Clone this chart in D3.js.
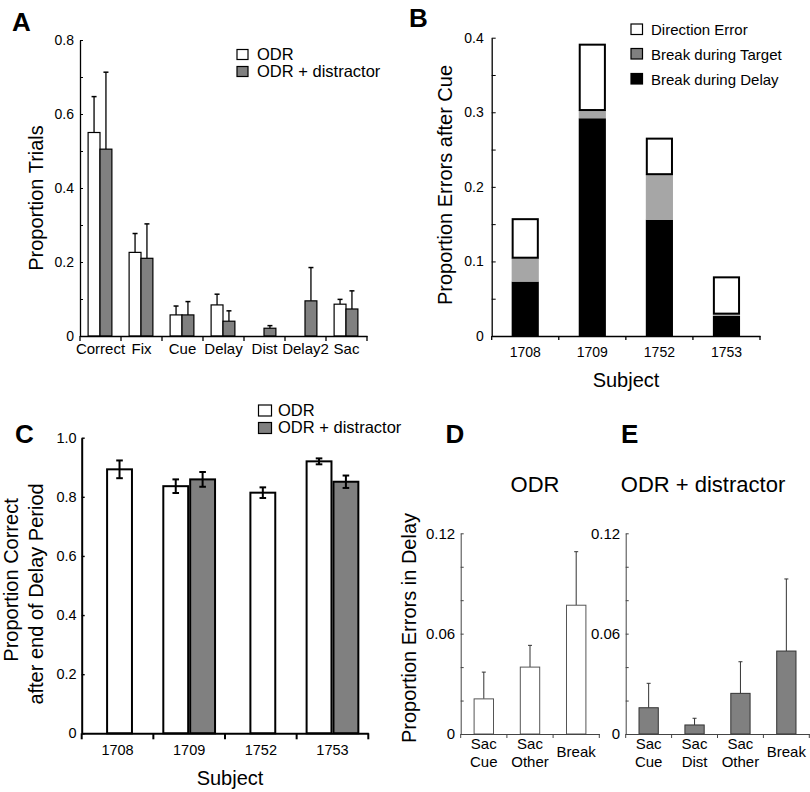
<!DOCTYPE html>
<html>
<head>
<meta charset="utf-8">
<script src="https://cdn.jsdelivr.net/npm/d3@7"></script>
<style>
  html, body { margin: 0; padding: 0; background: #fff; }
  svg { display: block; }
</style>
</head>
<body>
<svg id="fig" width="810" height="792"></svg>
<script>
// ---------- DATA ----------
// Panel A
const aCategories = ["Correct", "Fix", "Cue", "Delay", "Dist", "Delay2", "Sac"];
const aOdr     = [0.550, 0.226, 0.057, 0.084, null, null, 0.086];
const aOdrErr  = [0.097, 0.051, 0.024, 0.029, null, null, 0.013];
const aDist    = [0.505, 0.210, 0.057, 0.040, 0.021, 0.095, 0.073];
const aDistErr = [0.208, 0.093, 0.036, 0.028, 0.007, 0.090, 0.049];
const aTicks   = [0, 0.1, 0.2, 0.3, 0.4, 0.5, 0.6, 0.7, 0.8];
const aTickLabels = ["0", "", "0.2", "", "0.4", "", "0.6", "", "0.8"];

// Panel B
const bSubjects    = ["1708", "1709", "1752", "1753"];
const bBreakDelay  = [0.073, 0.292, 0.156, 0.027];
const bBreakTarget = [0.032, 0.011, 0.061, 0.003];
const bDirError    = [0.053, 0.089, 0.049, 0.050];
const bSeriesNames = ["Direction Error", "Break during Target", "Break during Delay"];
const bTicks = [0, 0.05, 0.1, 0.15, 0.2, 0.25, 0.3, 0.35, 0.4];
const bTickLabels = ["0", "", "0.1", "", "0.2", "", "0.3", "", "0.4"];

// Panel C
const cSubjects = ["1708", "1709", "1752", "1753"];
const cOdr      = [0.893, 0.836, 0.814, 0.920];
const cOdrErr   = [0.030, 0.023, 0.018, 0.010];
const cDist     = [null, 0.859, null, 0.851];
const cDistErr  = [null, 0.025, null, 0.021];
const cTicks = [0, 0.2, 0.4, 0.6, 0.8, 1.0];
const cTickLabels = ["0", "0.2", "0.4", "0.6", "0.8", "1.0"];

// Panel D (ODR)
const dCategories = [["Sac", "Cue"], ["Sac", "Other"], ["Break"]];
const dValues = [0.021, 0.040, 0.077];
const dErr    = [0.016, 0.013, 0.032];
// Panel E (ODR + distractor)
const eCategories = [["Sac", "Cue"], ["Sac", "Dist"], ["Sac", "Other"], ["Break"]];
const eValues = [0.0157, 0.0054, 0.0243, 0.0496];
const eErr    = [0.0146, 0.0040, 0.0189, 0.0431];
const deTicks = [0, 0.02, 0.04, 0.06, 0.08, 0.10, 0.12];
const deTickLabels = ["0", "", "", "0.06", "", "", "0.12"];

const legendNames = ["ODR", "ODR + distractor"];

// ---------- STYLE ----------
const FONT = '"Liberation Sans", Arial, Helvetica, sans-serif';
const GRAY = "#808080";
const LIGHTGRAY = "#a6a6a6";

const svg = d3.select("#fig");
svg.append("rect").attr("width", 810).attr("height", 792).attr("fill", "#fff");

function txt(g, x, y, s, size, opts = {}) {
  const t = g.append("text").attr("x", x).attr("y", y).text(s)
    .attr("font-family", FONT).attr("font-size", size).attr("fill", "#000")
    .attr("text-anchor", opts.anchor || "start");
  if (opts.bold) t.attr("font-weight", "bold");
  if (opts.rotate) t.attr("transform", `rotate(-90,${x},${y})`);
  return t;
}

function yAxis(x, scale, ticks, labels, size, tickLen, sw, pad, color) {
  const g = svg.append("g").attr("transform", `translate(${x},0)`)
    .call(d3.axisLeft(scale).tickValues(ticks)
      .tickFormat((d, i) => labels[i]).tickSize(-tickLen).tickSizeOuter(0).tickPadding(pad));
  g.select(".domain").attr("stroke", color).attr("stroke-width", sw);
  g.selectAll(".tick line").attr("stroke", color).attr("stroke-width", Math.max(1, sw * 0.7));
  g.selectAll(".tick text").attr("font-family", FONT).attr("font-size", size).attr("fill", "#000");
  return g;
}

function xAxisBand(y, scale, size, sw, tickLen, pad, color, withLabels) {
  const g = svg.append("g").attr("transform", `translate(0,${y})`)
    .call(d3.axisBottom(scale).tickSize(0).tickSizeOuter(0).tickPadding(pad));
  g.select(".domain").attr("stroke", color).attr("stroke-width", sw);
  if (withLabels) {
    g.selectAll(".tick text").attr("font-family", FONT).attr("font-size", size).attr("fill", "#000");
  } else {
    g.selectAll(".tick text").remove();
  }
  const bounds = scale.domain().map(c => scale(c)).concat([scale.range()[1]]);
  g.selectAll("line.bnd").data(bounds).enter().append("line")
    .attr("class", "bnd")
    .attr("x1", d => d).attr("x2", d => d).attr("y1", 0).attr("y2", tickLen)
    .attr("stroke", color).attr("stroke-width", sw);
  return g;
}

// ================= PANEL A =================
(function () {
  const y = d3.scaleLinear().domain([0, 0.8]).range([336, 40]);
  const x = d3.scaleBand().domain(aCategories).range([80, 367]);
  const bw = x.bandwidth() * 0.29;
  const g = svg.append("g");

  aCategories.forEach((c, i) => {
    const cx = x(c) + x.bandwidth() / 2 - 0.5;
    const series = [
      { v: aOdr[i], e: aOdrErr[i], x0: cx - bw, fill: "#fff" },
      { v: aDist[i], e: aDistErr[i], x0: cx, fill: GRAY }
    ];
    series.forEach(s => {
      if (s.v == null) return;
      const bx = s.x0 + bw / 2;
      g.append("line").attr("x1", bx).attr("x2", bx)
        .attr("y1", y(s.v)).attr("y2", y(s.v + s.e)).attr("stroke", "#000").attr("stroke-width", 1.3);
      g.append("line").attr("x1", bx - 2.5).attr("x2", bx + 2.5)
        .attr("y1", y(s.v + s.e)).attr("y2", y(s.v + s.e)).attr("stroke", "#000").attr("stroke-width", 1.5);
      g.append("rect").attr("x", s.x0).attr("y", y(s.v))
        .attr("width", bw).attr("height", y(0) - y(s.v))
        .attr("fill", s.fill).attr("stroke", "#000").attr("stroke-width", 1.2);
    });
  });

  yAxis(80, y, aTicks, aTickLabels, 14, 3, 1.3, 6, "#000");
  xAxisBand(336, x, 15, 1.3, 5, 7.5, "#000", true);

  txt(svg, 42.5, 198, "Proportion Trials", 20, { anchor: "middle", rotate: true });
  txt(svg, 12, 31, "A", 26, { bold: true });
  const leg = [[49.5, "#fff"], [66.5, GRAY]];
  leg.forEach((l, i) => {
    svg.append("rect").attr("x", 237).attr("y", l[0]).attr("width", 11).attr("height", 10)
      .attr("fill", l[1]).attr("stroke", "#000").attr("stroke-width", 1.2);
    txt(svg, 257, l[0] + 10, legendNames[i], 16.5);
  });
})();

// ================= PANEL B =================
(function () {
  const y = d3.scaleLinear().domain([0, 0.4]).range([336, 37.7]);
  const x = d3.scaleBand().domain(bSubjects).range([491.7, 760]);
  const bw = x.bandwidth() * 0.405;
  const table = bSubjects.map((s, i) => ({
    subject: s, delay: bBreakDelay[i], target: bBreakTarget[i], dir: bDirError[i]
  }));
  const keys = ["delay", "target", "dir"];
  const fills = { delay: "#000", target: LIGHTGRAY, dir: "#fff" };
  const stacked = d3.stack().keys(keys)(table);
  const g = svg.append("g");
  stacked.forEach(layer => {
    layer.forEach(d => {
      const cx = x(d.data.subject) + x.bandwidth() / 2;
      const r = g.append("rect")
        .attr("x", cx - bw / 2).attr("y", y(d[1]))
        .attr("width", bw).attr("height", Math.max(0, y(d[0]) - y(d[1])))
        .attr("fill", fills[layer.key]);
      if (layer.key === "dir") {
        r.attr("x", cx - bw / 2 + 1).attr("width", bw - 2)
          .attr("y", y(d[1]) + 1).attr("height", Math.max(0, y(d[0]) - y(d[1]) - 1))
          .attr("stroke", "#000").attr("stroke-width", 2);
      }
    });
  });

  yAxis(491.7, y, bTicks, bTickLabels, 14, 4, 1.3, 8, "#000");
  xAxisBand(336, x, 14, 1.3, 4, 10.8, "#000", true);

  txt(svg, 452, 185, "Proportion Errors after Cue", 20, { anchor: "middle", rotate: true });
  txt(svg, 626, 387, "Subject", 20, { anchor: "middle" });
  txt(svg, 409, 27, "B", 26, { bold: true });

  const legFills = ["#fff", GRAY, "#000"];
  const legY = [24, 48.5, 73.5];
  bSeriesNames.forEach((n, i) => {
    svg.append("rect").attr("x", 631).attr("y", legY[i]).attr("width", 11.5).attr("height", 10.5)
      .attr("fill", legFills[i]).attr("stroke", "#000").attr("stroke-width", 1.2);
    txt(svg, 651, legY[i] + 11, n, 15);
  });
})();

// ================= PANEL C =================
(function () {
  const y = d3.scaleLinear().domain([0, 1]).range([733.3, 437.7]);
  const x = d3.scaleBand().domain(cSubjects).range([81.7, 368.3]);
  const bw = x.bandwidth() * 0.375;
  const g = svg.append("g");
  cSubjects.forEach((c, i) => {
    const cx = x(c) + x.bandwidth() / 2;
    const pair = cDist[i] != null;
    const items = [];
    if (pair) {
      items.push({ v: cOdr[i], e: cOdrErr[i], x0: cx - bw, fill: "#fff" });
      items.push({ v: cDist[i], e: cDistErr[i], x0: cx, fill: GRAY });
    } else {
      items.push({ v: cOdr[i], e: cOdrErr[i], x0: cx - bw / 2 + 2, fill: "#fff" });
    }
    items.forEach(s => {
      g.append("rect").attr("x", s.x0 + 1).attr("y", y(s.v))
        .attr("width", bw - 2).attr("height", y(0) - y(s.v))
        .attr("fill", s.fill).attr("stroke", "#000").attr("stroke-width", 2);
    });
    items.forEach(s => {
      const bx = s.x0 + bw / 2;
      g.append("line").attr("x1", bx).attr("x2", bx)
        .attr("y1", y(s.v - s.e)).attr("y2", y(s.v + s.e)).attr("stroke", "#000").attr("stroke-width", 2);
      [s.v - s.e, s.v + s.e].forEach(v => {
        g.append("line").attr("x1", bx - 3.3).attr("x2", bx + 3.3)
          .attr("y1", y(v)).attr("y2", y(v)).attr("stroke", "#000").attr("stroke-width", 2);
      });
    });
  });

  yAxis(81.7, y, cTicks, cTickLabels, 14.5, 3, 2, 5, "#000");
  xAxisBand(733.3, x, 14.5, 2, 6, 11.3, "#000", true);

  txt(svg, 17.5, 580, "Proportion Correct", 20, { anchor: "middle", rotate: true });
  txt(svg, 42.8, 594, "after end of Delay Period", 20, { anchor: "middle", rotate: true });
  txt(svg, 230, 785, "Subject", 20, { anchor: "middle" });
  txt(svg, 15, 443, "C", 26, { bold: true });

  const leg = [[405, "#fff"], [422.5, GRAY]];
  leg.forEach((l, i) => {
    svg.append("rect").attr("x", 258.5).attr("y", l[0]).attr("width", 13).attr("height", 11)
      .attr("fill", l[1]).attr("stroke", "#000").attr("stroke-width", 1.2);
    txt(svg, 278, l[0] + 10.5, legendNames[i], 16.5);
  });
})();

// ================= PANELS D & E =================
function smallPanel(x0, x1, cats, vals, errs, fill, stroke, title, titleX, letter, letterX) {
  const y = d3.scaleLinear().domain([0, 0.12]).range([734, 533.3]);
  const keys = cats.map(c => c.join(" "));
  const x = d3.scaleBand().domain(keys).range([x0, x1]);
  const bw = x.bandwidth() * 0.42;
  const g = svg.append("g");
  keys.forEach((k, i) => {
    const cx = x(k) + x.bandwidth() / 2;
    g.append("line").attr("x1", cx).attr("x2", cx)
      .attr("y1", y(vals[i])).attr("y2", y(vals[i] + errs[i]))
      .attr("stroke", "#333").attr("stroke-width", 1);
    g.append("line").attr("x1", cx - 2).attr("x2", cx + 2)
      .attr("y1", y(vals[i] + errs[i])).attr("y2", y(vals[i] + errs[i]))
      .attr("stroke", "#333").attr("stroke-width", 1);
    g.append("rect").attr("x", cx - bw / 2).attr("y", y(vals[i]))
      .attr("width", bw).attr("height", y(0) - y(vals[i]))
      .attr("fill", fill).attr("stroke", stroke).attr("stroke-width", 1);
    const lines = cats[i];
    if (lines.length === 2) {
      txt(g, cx, 748.5, lines[0], 15, { anchor: "middle" });
      txt(g, cx, 766.5, lines[1], 15, { anchor: "middle" });
    } else {
      txt(g, cx, 757, lines[0], 15, { anchor: "middle" });
    }
  });
  yAxis(x0, y, deTicks, deTickLabels, 15, 3, 1, 5.5, "#444");
  xAxisBand(734, x, 15, 1, 4, 6, "#444", false);
  txt(svg, titleX, 492, title, 22, { anchor: "middle" });
  txt(svg, letterX, 443, letter, 26, { bold: true });
}

smallPanel(460.7, 599.3, dCategories, dValues, dErr, "#fff", "#555", "ODR", 535, "D", 445.5);
smallPanel(625.7, 809.3, eCategories, eValues, eErr, GRAY, "#333", "ODR + distractor", 703, "E", 621);
txt(svg, 416, 628, "Proportion Errors in Delay", 20, { anchor: "middle", rotate: true });
</script>
</body>
</html>
